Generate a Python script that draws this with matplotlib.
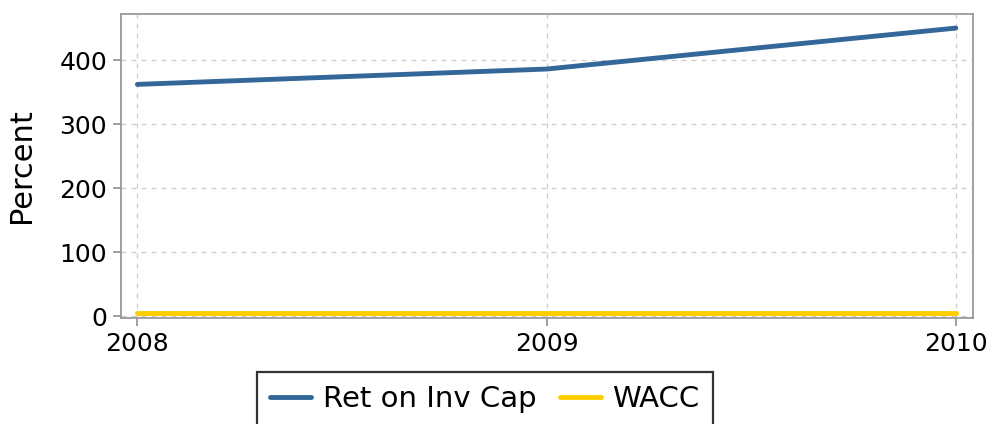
import matplotlib
matplotlib.use('Agg')
import matplotlib.pyplot as plt

years = [2008, 2009, 2010]
ret_on_inv_cap = [362, 386, 450]
wacc = [5, 5, 5]

plt.rcParams['font.family'] = 'DejaVu Sans'

fig = plt.figure(figsize=(9.92, 4.24), dpi=100)
ax = fig.add_axes([121/992, 1 - 318/424, (973-121)/992, (318-14)/424])

ax.plot(years, ret_on_inv_cap, color='#336699', lw=3.5, label='Ret on Inv Cap', solid_capstyle='round')
ax.plot(years, wacc, color='#ffcc00', lw=3.5, label='WACC', solid_capstyle='round')

ax.set_xlim(2008 - 0.04, 2010 + 0.042)
ax.set_ylim(-3, 472)
ax.set_xticks(years)
ax.set_xticklabels([str(y) for y in years])
ax.set_yticks([0, 100, 200, 300, 400])

ax.grid(True, linestyle=(0, (4, 4)), color='#cccccc', lw=0.9)
for s in ax.spines.values():
    s.set_color('#999999')
    s.set_linewidth(1.3)
ax.tick_params(colors='#999999', labelcolor='black', labelsize=18, length=6, width=1.3, pad=4)
ax.set_ylabel('Percent', fontsize=22)
ax.yaxis.set_label_coords(-0.10, 0.5)

leg = fig.legend(loc='upper center', bbox_to_anchor=(485/992, 1 - 372/424), ncol=2,
                 fontsize=21, frameon=True, fancybox=False, edgecolor='black',
                 handlelength=1.4, handletextpad=0.4, columnspacing=0.8, borderpad=0.45,
                 borderaxespad=0)
leg.get_frame().set_linewidth(1.6)

fig.savefig('out.png', dpi=100)
